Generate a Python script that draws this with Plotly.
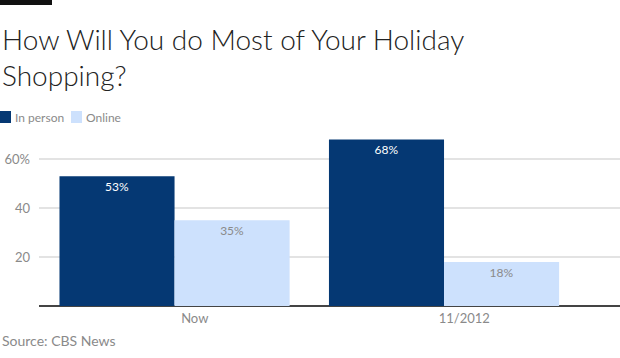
import plotly.graph_objects as go

categories = ["Now", "11/2012"]
in_person = [53, 68]
online = [35, 18]
series_names = ["In person", "Online"]
y_tickvals = [20, 40, 60]
y_ticktext = ["20", "40", "60%"]

DARK = "#053873"
LIGHT = "#cde1fd"
FONT = "Lato"

W, H = 620, 358
ML, MR, MT, MB = 39, 0, 139, 52
PW, PH = W - ML - MR, H - MT - MB

def px(x):
    return (x - ML) / PW

def py(y):
    return (H - MB - y) / PH

xpos = list(range(len(categories)))

fig = go.Figure()
fig.add_trace(go.Bar(
    x=xpos, y=in_person, name=series_names[0],
    marker=dict(color=DARK, line=dict(width=0)),
    texttemplate="%{y}%", textposition="inside", insidetextanchor="end",
    textfont=dict(color="white", size=12, family=FONT), textangle=0,
))
fig.add_trace(go.Bar(
    x=xpos, y=online, name=series_names[1],
    marker=dict(color=LIGHT, line=dict(width=0)),
    texttemplate="%{y}%", textposition="inside", insidetextanchor="end",
    textfont=dict(color="#8a8a8a", size=12, family=FONT), textangle=0,
))

fig.update_layout(
    width=W, height=H,
    margin=dict(l=ML, r=MR, t=MT, b=MB, pad=0),
    paper_bgcolor="white", plot_bgcolor="white",
    barmode="group", bargap=0.146, bargroupgap=0,
    showlegend=False,
    font=dict(family=FONT, color="#8a8a8a"),
    xaxis=dict(
        range=[-0.503, 1.653], tickmode="array",
        tickvals=[v + 0.075 for v in xpos], ticktext=categories,
        showgrid=False, zeroline=False, showline=False, ticks="",
        tickfont=dict(size=13, color="#8a8a8a", family=FONT),
        ticklabelstandoff=3,
        fixedrange=True,
    ),
    yaxis=dict(
        range=[0, 68.2], tickmode="array", tickvals=y_tickvals, ticktext=y_ticktext,
        showgrid=True, gridcolor="#e3e3e3", gridwidth=2,
        zeroline=True, zerolinecolor="#444444", zerolinewidth=1.5,
        showline=False, ticks="", ticklabelstandoff=8,
        tickfont=dict(size=13, color="#8a8a8a", family=FONT),
        fixedrange=True,
    ),
    uniformtext=dict(mode=False),
)

# top black accent bar
fig.add_shape(type="rect", xref="paper", yref="paper",
              x0=px(0), x1=px(52), y0=py(5), y1=py(0),
              fillcolor="#111111", line=dict(width=0), layer="above")

# title
fig.add_annotation(
    xref="paper", yref="paper", x=px(0), y=py(20), xanchor="left", yanchor="top",
    text="How Will You do Most of Your Holiday<br>Shopping?", showarrow=False, align="left",
    font=dict(size=28, color="#222222", family=FONT, weight=300),
)

# legend
legend_items = [(0, DARK, series_names[0]), (71, LIGHT, series_names[1])]
for x0, col, name in legend_items:
    fig.add_shape(type="rect", xref="paper", yref="paper",
                  x0=px(x0), x1=px(x0 + 11), y0=py(123), y1=py(111),
                  fillcolor=col, line=dict(width=0))
    fig.add_annotation(xref="paper", yref="paper", x=px(x0 + 13), y=py(117),
                       xanchor="left", yanchor="middle", text=name, showarrow=False,
                       font=dict(size=12, color="#8a8a8a", family=FONT))

# source
fig.add_annotation(xref="paper", yref="paper", x=px(0), y=py(340),
                   xanchor="left", yanchor="middle", text="Source: CBS News", showarrow=False,
                   font=dict(size=14, color="#8a8a8a", family=FONT))

fig.write_html("out.html", config={"displayModeBar": False},
               post_script="document.body.style.margin='0';document.body.style.overflow='hidden';")
